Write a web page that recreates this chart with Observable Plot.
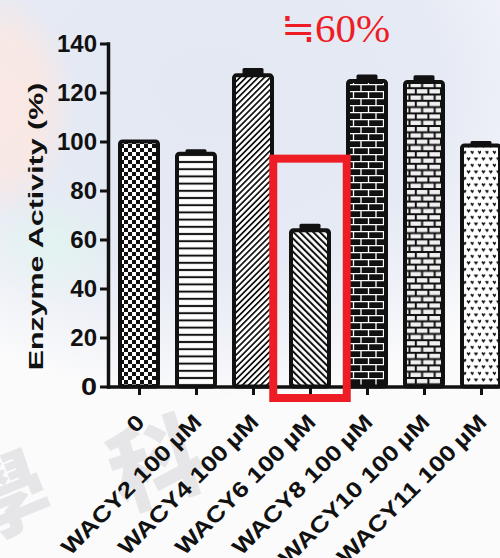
<!DOCTYPE html>
<html>
<head>
<meta charset="utf-8">
<script src="https://cdn.jsdelivr.net/npm/d3@7"></script>
<script src="https://cdn.jsdelivr.net/npm/@observablehq/plot@0.6"></script>
<style>
  html, body { margin: 0; padding: 0; width: 500px; height: 558px; overflow: hidden; background: #fbfbfc; }
  #wrap {
    position: relative; width: 500px; height: 558px; overflow: hidden;
    background:
      radial-gradient(ellipse 80px 115px at -5px 105px, rgba(252,232,226,0.9) 0%, rgba(252,232,226,0.8) 60%, rgba(252,232,226,0) 100%),
      radial-gradient(ellipse 70px 60px at 55px 245px, rgba(225,245,240,0.85) 0%, rgba(225,245,240,0) 100%),
      radial-gradient(ellipse 400px 310px at 210px 90px, #e4e8f3 0%, #e6eaf4 58%, rgba(236,239,246,0.7) 82%, rgba(250,250,252,0) 100%),
      #fbfbfc;
  }
  .mark-bg { position: absolute; font-family: "Noto Sans CJK TC", "Noto Sans CJK SC", sans-serif; font-weight: 900; color: #e6e6e8; user-select: none; line-height: 1; }
  #chart { position: absolute; left: 0; top: 0; }
</style>
</head>
<body>
<div id="wrap">
  <div class="mark-bg" style="left:108px; top:412px; font-size:92px; transform:rotate(-18deg);">科</div>
  <div class="mark-bg" style="left:-42px; top:448px; font-size:88px; transform:rotate(-22deg);">學</div>
  <div id="chart"></div>
</div>
<script>
// Treatment groups, mean enzyme activity (% of control) and error bar size
const groups = ["0", "WACY2 100\u2009µM", "WACY4 100\u2009µM", "WACY6 100\u2009µM", "WACY8 100\u2009µM", "WACY10 100\u2009µM", "WACY11 100\u2009µM"];
const activity = [100, 95, 127, 63.8, 124.7, 124.3, 98.4];
const errors = [0, 1.8, 3.0, 2.6, 2.6, 2.7, 1.8];
const fills = ["checker", "hlines", "diagUp", "diagDown", "brickDark", "brickLight", "dots"];
const yTicks = [0, 20, 40, 60, 80, 100, 120, 140];
const yTitle = "Enzyme Activity (%)";

// Highlighted group and its annotation
const highlightGroup = "WACY6 100\u2009µM";
const highlightSpan = [-4.7, 93];
const highlightNote = "≒60%";

const rows = groups.map((g, i) => ({group: g, value: activity[i], err: errors[i], pattern: fills[i]}));
const highlight = [{group: highlightGroup, lo: highlightSpan[0], hi: highlightSpan[1], note: highlightNote}];

const ink = "#111";
const red = "#ee1c24";
const sans = "'Liberation Sans', Arial, Helvetica, sans-serif";

const chart = Plot.plot({
  width: 512,
  height: 558,
  marginLeft: 108,
  marginRight: 0,
  marginTop: 43.5,
  marginBottom: 171.5,
  style: {background: "transparent", maxWidth: "none", fontFamily: sans, overflow: "visible"},
  x: {domain: groups, paddingInner: 0.336, paddingOuter: 0.198, axis: null},
  y: {domain: [0, 140], axis: null},
  color: {type: "identity"},
  marks: [
    Plot.barY(rows, {x: "group", y: "value", fill: d => `url(#pat-${d.pattern})`, stroke: ink, strokeWidth: 4, rx: 2.5}),
    Plot.barY(rows.filter(d => d.err > 0), {x: "group", y1: "value", y2: d => d.value + d.err, fill: ink, insetLeft: 8.5, insetRight: 8.5, rx: 1.5}),
    Plot.ruleY([0], {stroke: ink, strokeWidth: 3.5}),
    Plot.frame({anchor: "left", stroke: ink, strokeWidth: 3.5}),
    Plot.axisY({ticks: yTicks, tickSize: 8, tickPadding: 3.5, fontSize: 24, fontWeight: "bold", strokeWidth: 3, color: ink, label: null}),
    Plot.axisX({tickSize: 8.5, strokeWidth: 3, color: ink, tickFormat: () => "", label: null}),
    Plot.text(rows, {x: "group", frameAnchor: "bottom", text: "group", rotate: -45, textAnchor: "end", lineAnchor: "bottom", dx: 6.5, dy: 36.5, fontSize: 22, fontWeight: "bold", fill: ink}),
    Plot.text([yTitle], {frameAnchor: "left", text: d => d, rotate: -90, textAnchor: "middle", lineAnchor: "bottom", dx: -66, dy: 11, fontSize: 20, fontWeight: "bold", fill: ink}),
    Plot.barY(highlight, {x: "group", y1: "lo", y2: "hi", fill: "none", stroke: red, strokeWidth: 8, insetLeft: -17.75, insetRight: -17.75}),
    Plot.text(highlight, {x: "group", frameAnchor: "top", text: "note", textAnchor: "start", lineAnchor: "bottom", dx: -29.5, dy: -2.5, fontSize: 41, fill: red, fontFamily: "'Liberation Serif', 'Times New Roman', serif"})
  ]
});

// Fill patterns used by the bars
d3.select(chart).insert("defs", ":first-child").html(`
  <pattern id="pat-checker" patternUnits="userSpaceOnUse" width="8" height="8">
    <rect width="8" height="8" fill="#fff"/><rect width="4" height="4" fill="${ink}"/><rect x="4" y="4" width="4" height="4" fill="${ink}"/>
  </pattern>
  <pattern id="pat-hlines" patternUnits="userSpaceOnUse" width="10" height="7.2">
    <rect width="10" height="7.2" fill="#fff"/><rect y="2.6" width="10" height="2" fill="${ink}"/>
  </pattern>
  <pattern id="pat-diagUp" patternUnits="userSpaceOnUse" width="4.3" height="10" patternTransform="rotate(45)">
    <rect width="4.3" height="10" fill="#fff"/><rect width="1.7" height="10" fill="${ink}"/>
  </pattern>
  <pattern id="pat-diagDown" patternUnits="userSpaceOnUse" width="4.7" height="10" patternTransform="rotate(-45)">
    <rect width="4.7" height="10" fill="#fff"/><rect width="2" height="10" fill="${ink}"/>
  </pattern>
  <pattern id="pat-brickDark" patternUnits="userSpaceOnUse" width="15" height="14">
    <rect width="15" height="14" fill="${ink}"/>
    <path d="M0,0.65H15M0,7.65H15M1,0.65V7.65M8.5,7.65V14.65" stroke="#fff" stroke-width="1.3"/>
  </pattern>
  <pattern id="pat-brickLight" patternUnits="userSpaceOnUse" width="12.6" height="12.6">
    <rect width="12.6" height="12.6" fill="${ink}"/>
    <rect x="1" y="1" width="10.6" height="4.3" fill="#f0f0f0"/>
    <rect x="-5.3" y="7.3" width="10.6" height="4.3" fill="#f0f0f0"/>
    <rect x="7.3" y="7.3" width="10.6" height="4.3" fill="#f0f0f0"/>
  </pattern>
  <pattern id="pat-dots" patternUnits="userSpaceOnUse" width="7.4" height="13">
    <rect width="7.4" height="13" fill="#fff"/>
    <path d="M1,1.5l1.4,2.2l1.4,-2.2M4.7,8l1.4,2.2l1.4,-2.2" fill="none" stroke="${ink}" stroke-width="1.4"/>
  </pattern>
`);

document.getElementById("chart").appendChild(chart);

// Widen the axis label lettering along the baseline
const svg = d3.select(chart);
svg.selectAll("text").filter(function () { return groups.includes(this.textContent); })
  .each(function () {
    const len = this.getComputedTextLength();
    d3.select(this).attr("textLength", len * 1.2).attr("lengthAdjust", "spacingAndGlyphs");
  });
svg.selectAll("text").filter(function () { return this.textContent === yTitle; })
  .each(function () {
    const len = this.getComputedTextLength();
    d3.select(this).attr("textLength", len * 1.52).attr("lengthAdjust", "spacingAndGlyphs");
  });
</script>
</body>
</html>
